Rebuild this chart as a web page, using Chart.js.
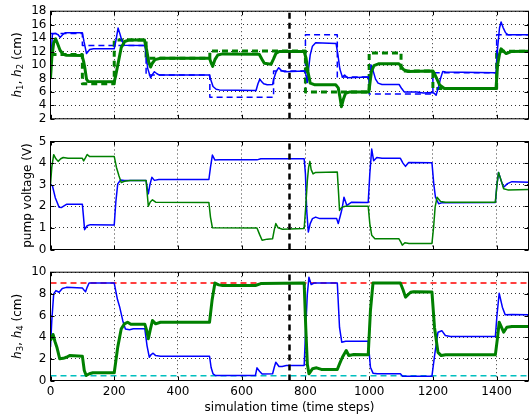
<!DOCTYPE html>
<html>
<head>
<meta charset="utf-8">
<script src="https://cdn.jsdelivr.net/npm/chart.js@4.4.0/dist/chart.umd.min.js"></script>
<style>
  body { margin: 0; background: #fff; }
  .panel { position: absolute; left: 0; width: 529px; }
</style>
</head>
<body>
<div class="panel" style="top:0;height:130px"><canvas id="c1" width="529" height="130"></canvas></div>
<div class="panel" style="top:130px;height:131px"><canvas id="c2" width="529" height="131"></canvas></div>
<div class="panel" style="top:261px;height:156px"><canvas id="c3" width="529" height="156"></canvas></div>
<script>
// x ticks shared by all panels
const xTicks = [0, 200, 400, 600, 800, 1000, 1200, 1400];
const splitT = 750;

// top panel: tank levels h1 (blue), h2 (green) and their setpoints
const y1Ticks = [2, 4, 6, 8, 10, 12, 14, 16, 18];
const h1Data = [[0, 8.2], [3, 12], [6, 14.6], [15, 14.7], [24, 14.5], [30, 14.1], [38, 14.5], [46, 14.8], [100, 14.8],
  [105, 13.5], [113, 11.7], [123, 12.3], [135, 12.4], [200, 12.4], [206, 13.8], [212, 15.5], [218, 14.6], [224, 13.6],
  [232, 12.95], [296, 12.9], [300, 11.5], [305, 9.5], [314, 8.1], [320, 8.6], [326, 9.0], [334, 8.7], [342, 8.5],
  [498, 8.5], [503, 7.8], [510, 6.8], [520, 6.4], [530, 6.3], [645, 6.2], [651, 7.2], [657, 7.9], [663, 7.5],
  [669, 7.2], [680, 7.05], [697, 7.1], [701, 8.0], [708, 9.0], [716, 9.6], [724, 9.2], [735, 9.0], [798, 9.1],
  [802, 8.5], [806, 7.4], [810, 9.5], [815, 11.5], [822, 12.8], [832, 13.3], [896, 13.2], [902, 11.5], [908, 9.4],
  [916, 8.2], [923, 8.5], [932, 8.1], [998, 8.2], [1002, 7.2], [1006, 10.0], [1012, 9.2], [1020, 7.9], [1028, 7.3],
  [1040, 7.1], [1094, 7.1], [1102, 6.5], [1110, 6.0], [1150, 6.0], [1170, 5.85], [1198, 5.9], [1204, 5.8],
  [1210, 5.5], [1218, 6.8], [1224, 8.0], [1231, 9.05], [1240, 8.95], [1398, 8.85], [1403, 12.5], [1409, 15.5],
  [1414, 16.4], [1420, 15.6], [1428, 14.8], [1436, 14.5], [1500, 14.5]];
const h2Data = [[0, 8.0], [4, 11], [10, 13.3], [16, 13.9], [22, 13.2], [30, 12.2], [40, 11.6], [50, 11.45], [99, 11.4],
  [104, 10.5], [108, 9.5], [113, 7.9], [118, 7.55], [200, 7.5], [205, 8.5], [212, 10.2], [222, 12.6], [233, 13.5],
  [245, 13.7], [295, 13.7], [302, 12.2], [308, 10.5], [314, 9.7], [320, 10.3], [328, 10.8], [345, 11.0], [499, 11.0],
  [505, 10.2], [509, 9.8], [516, 10.8], [525, 11.5], [540, 11.65], [655, 11.6], [663, 10.9], [671, 10.25],
  [692, 10.1], [700, 10.9], [707, 11.7], [718, 12.0], [796, 12.0], [802, 11.0], [808, 9.0], [815, 7.3], [830, 7.05],
  [895, 7.05], [903, 6.6], [908, 5.3], [913, 3.8], [919, 4.9], [926, 5.8], [940, 6.0], [999, 6.0], [1003, 7.5],
  [1007, 9.0], [1015, 9.9], [1031, 10.2], [1093, 10.2], [1100, 9.8], [1108, 9.3], [1121, 9.05], [1200, 9.1],
  [1204, 8.8], [1210, 8.2], [1221, 7.05], [1236, 6.5], [1398, 6.5], [1403, 10.0], [1409, 11.6], [1414, 12.4],
  [1420, 12.1], [1430, 11.7], [1445, 12.0], [1500, 12.05]];
const h1Ref = [[0, 14.7], [100, 12.9], [300, 8.5], [500, 5.2], [700, 9.1], [800, 14.5], [900, 8.2], [1000, 5.7],
  [1200, 8.85], [1400, 14.5], [1500, 14.5]];
const h2Ref = [[0, 11.55], [100, 7.2], [200, 13.7], [300, 11.0], [500, 12.1], [800, 6.0], [1000, 11.8], [1100, 9.1],
  [1200, 6.5], [1400, 12.05], [1500, 12.05]];

// middle panel: pump voltages
const y2Ticks = [0, 1, 2, 3, 4, 5];
const u1Data = [[0, 3.0], [6, 2.95], [15, 2.4], [27, 1.96], [35, 1.95], [50, 2.09], [100, 2.09], [103, 1.6],
  [107, 0.92], [115, 1.1], [125, 1.15], [200, 1.14], [205, 2.2], [211, 3.04], [220, 3.22], [232, 3.2], [300, 3.2],
  [304, 2.8], [307, 2.58], [312, 3.0], [318, 3.34], [326, 3.2], [340, 3.24], [497, 3.24], [502, 3.8], [508, 4.37],
  [516, 4.14], [530, 4.16], [648, 4.15], [660, 4.2], [796, 4.2], [800, 3.5], [804, 1.81], [809, 0.81], [815, 1.2],
  [822, 1.43], [832, 1.5], [845, 1.43], [898, 1.43], [903, 1.2], [910, 1.6], [915, 1.89], [921, 2.42], [930, 2.04],
  [945, 2.19], [997, 2.18], [1002, 3.5], [1008, 4.65], [1014, 4.11], [1024, 4.26], [1040, 4.22], [1098, 4.22],
  [1106, 4.0], [1114, 3.85], [1124, 4.03], [1197, 4.02], [1203, 3.0], [1208, 2.42], [1218, 2.12], [1230, 2.17],
  [1396, 2.18], [1401, 3.0], [1406, 3.57], [1414, 3.19], [1422, 2.88], [1434, 3.05], [1448, 3.14], [1500, 3.11]];
const u2Data = [[0, 3.0], [4, 3.8], [10, 4.39], [17, 4.2], [24, 4.08], [32, 4.2], [40, 4.26], [55, 4.22], [100, 4.22],
  [104, 4.1], [110, 4.25], [115, 4.4], [122, 4.31], [200, 4.31], [207, 3.8], [215, 3.4], [222, 3.1], [232, 3.16],
  [250, 3.19], [300, 3.19], [304, 2.5], [307, 2.0], [313, 2.2], [320, 2.3], [330, 2.19], [497, 2.18], [502, 1.5],
  [508, 1.01], [648, 1.0], [656, 0.7], [664, 0.43], [680, 0.48], [697, 0.5], [702, 0.9], [707, 1.2], [714, 1.01],
  [728, 0.94], [796, 0.97], [801, 2.0], [806, 3.19], [810, 3.8], [814, 4.08], [818, 3.7], [824, 3.5], [832, 3.57],
  [900, 3.59], [904, 2.6], [907, 1.81], [914, 1.95], [925, 2.0], [997, 2.0], [1002, 1.2], [1008, 0.66], [1018, 0.5],
  [1093, 0.5], [1099, 0.35], [1104, 0.2], [1112, 0.31], [1125, 0.28], [1197, 0.28], [1202, 1.0], [1207, 1.96],
  [1213, 2.42], [1224, 2.22], [1240, 2.19], [1396, 2.19], [1401, 3.0], [1406, 3.57], [1414, 3.2], [1422, 2.81],
  [1435, 2.76], [1500, 2.78]];

// bottom panel: h3 (blue), h4 (green) and level limits
const y3Ticks = [0, 2, 4, 6, 8, 10];
const hMax = 9;
const hMin = 0.45;
const h3Data = [[0, 3.1], [4, 5.5], [10, 8.0], [17, 8.3], [27, 8.15], [37, 8.5], [50, 8.6], [100, 8.55], [105, 8.35],
  [110, 8.2], [115, 8.6], [121, 9.0], [200, 9.0], [210, 7.5], [217, 6.8], [227, 5.5], [235, 4.75], [248, 4.68],
  [260, 4.77], [296, 4.77], [303, 3.2], [310, 2.15], [316, 2.4], [322, 2.52], [330, 2.3], [345, 2.25], [499, 2.25],
  [504, 1.2], [510, 0.62], [518, 0.46], [643, 0.46], [648, 1.17], [656, 0.85], [664, 0.6], [697, 0.62], [702, 1.2],
  [707, 1.69], [717, 1.29], [727, 1.3], [740, 1.38], [796, 1.38], [801, 4.9], [806, 8.0], [811, 9.54], [818, 8.86],
  [827, 9.0], [900, 9.0], [907, 4.9], [914, 3.54], [926, 3.63], [997, 3.63], [1004, 1.23], [1012, 0.68],
  [1025, 0.62], [1098, 0.62], [1105, 0.4], [1197, 0.4], [1206, 2.46], [1216, 4.46], [1228, 4.6], [1239, 4.15],
  [1255, 4.06], [1396, 4.06], [1401, 6.0], [1408, 8.06], [1418, 6.77], [1427, 6.06], [1448, 6.09], [1500, 6.06]];
const h4Data = [[0, 3.7], [8, 4.25], [14, 3.6], [20, 3.08], [29, 2.0], [40, 2.05], [50, 2.15], [60, 2.3], [100, 2.25],
  [106, 0.92], [112, 0.46], [122, 0.62], [133, 0.71], [200, 0.71], [205, 1.8], [211, 3.08], [222, 4.77], [232, 5.23],
  [242, 5.38], [252, 5.2], [296, 5.2], [302, 4.6], [307, 3.85], [314, 4.8], [320, 5.54], [330, 5.23], [345, 5.38],
  [499, 5.38], [507, 7.4], [516, 9.0], [528, 8.83], [540, 8.77], [643, 8.77], [660, 8.95], [796, 9.0], [801, 4.9],
  [806, 1.5], [811, 0.62], [822, 1.08], [835, 1.17], [850, 1.02], [900, 1.02], [908, 1.6], [916, 2.15], [928, 2.77],
  [936, 2.31], [952, 2.4], [997, 2.37], [1004, 6.46], [1012, 9.0], [1098, 9.0], [1106, 8.4], [1114, 7.7],
  [1130, 8.15], [1140, 8.2], [1197, 8.18], [1205, 4.9], [1216, 2.6], [1226, 2.3], [1240, 2.37], [1396, 2.37],
  [1403, 4.0], [1408, 5.38], [1422, 4.46], [1432, 4.92], [1448, 4.98], [1500, 4.98]];

const FONT = { family: "'DejaVu Sans', sans-serif", size: 12 };
const BLUE = '#0000ff', GREEN = '#008000';

// frame on all four sides plus matplotlib-style inward ticks
const frame = {
  id: 'frame',
  afterDatasetsDraw(chart) {
    const { ctx, chartArea: a, scales } = chart;
    ctx.save();
    ctx.strokeStyle = '#000';
    ctx.lineWidth = 1;
    ctx.beginPath();
    scales.x.ticks.forEach(t => {
      const px = Math.round(scales.x.getPixelForValue(t.value)) + 0.5;
      ctx.moveTo(px, a.top); ctx.lineTo(px, a.top + 4);
      ctx.moveTo(px, a.bottom); ctx.lineTo(px, a.bottom - 4);
    });
    scales.y.ticks.forEach(t => {
      const py = Math.round(scales.y.getPixelForValue(t.value)) + 0.5;
      ctx.moveTo(a.left, py); ctx.lineTo(a.left + 4, py);
      ctx.moveTo(a.right, py); ctx.lineTo(a.right - 4, py);
    });
    ctx.stroke();
    ctx.strokeRect(a.left, a.top, a.width, a.height);
    ctx.restore();
  }
};

// rotated y title with italic symbols and subscripts
const yTitle = {
  id: 'yTitle',
  afterDraw(chart, args, opts) {
    const { ctx, chartArea: a } = chart;
    const fontOf = p => (p.italic ? 'italic ' : '') + (p.sub ? 8.5 : 12) + "px 'DejaVu Sans'";
    ctx.save();
    ctx.fillStyle = '#000';
    ctx.textBaseline = 'middle';
    let total = 0;
    opts.parts.forEach(p => { ctx.font = fontOf(p); total += ctx.measureText(p.text).width; });
    ctx.translate(opts.x, (a.top + a.bottom) / 2);
    ctx.rotate(-Math.PI / 2);
    let pos = -total / 2;
    opts.parts.forEach(p => {
      ctx.font = fontOf(p);
      ctx.fillText(p.text, pos, p.sub ? 3 : 0);
      pos += ctx.measureText(p.text).width;
    });
    ctx.restore();
  }
};

const line = (data, color, width, dash) => ({
  data: data, borderColor: color, borderWidth: width, borderDash: dash || [],
  pointRadius: 0, tension: 0, fill: false, clip: 0, borderJoinStyle: 'round', borderCapStyle: 'butt'
});
const vline = (yMin, yMax) => line([[splitT, yMin], [splitT, yMax]], '#000', 2.5, [6, 4]);

function makePanel(id, cfg) {
  return new Chart(document.getElementById(id), {
    type: 'line',
    data: { datasets: cfg.datasets },
    options: {
      responsive: false,
      animation: false,
      devicePixelRatio: 1,
      layout: { padding: { top: cfg.top, right: 0.5, left: 0, bottom: 0 } },
      plugins: {
        legend: { display: false },
        tooltip: { enabled: false },
        yTitle: { parts: cfg.title, x: cfg.titleX }
      },
      scales: {
        x: {
          type: 'linear', min: 0, max: 1500,
          afterBuildTicks: s => { s.ticks = xTicks.map(v => ({ value: v })); },
          afterFit: s => { s.height = cfg.xHeight; },
          grid: { color: '#333', lineWidth: 1, drawTicks: false },
          border: { display: false, dash: [1, 3] },
          ticks: { display: cfg.showX, autoSkip: false, padding: 4, color: '#000', font: FONT, maxRotation: 0, callback: v => String(v) },
          title: { display: cfg.showX, text: 'simulation time (time steps)', color: '#000', font: FONT, padding: { top: 0, bottom: 1.5 } }
        },
        y: {
          type: 'linear', min: cfg.yMin, max: cfg.yMax,
          afterBuildTicks: s => { s.ticks = cfg.yTicks.map(v => ({ value: v })); },
          afterFit: s => { s.width = 50.5; },
          grid: { color: '#333', lineWidth: 1, drawTicks: false },
          border: { display: false, dash: [1, 3] },
          ticks: { autoSkip: false, padding: 4, color: '#000', font: FONT, callback: v => String(v) }
        }
      }
    },
    plugins: [frame, yTitle]
  });
}

makePanel('c1', {
  top: 10.5, xHeight: 10.5, showX: false, yMin: 2, yMax: 18, yTicks: y1Ticks, titleX: 17.5,
  title: [{ text: 'h', italic: true }, { text: '1', sub: true }, { text: ', ' },
          { text: 'h', italic: true }, { text: '2', sub: true }, { text: ' (cm)' }],
  datasets: [
    vline(2, 18),
    line(h2Data, GREEN, 3),
    line(h1Data, BLUE, 1.5),
    Object.assign(line(h2Ref, GREEN, 3, [6, 4]), { stepped: true }),
    Object.assign(line(h1Ref, BLUE, 1.5, [6, 4]), { stepped: true })
  ]
});

makePanel('c2', {
  top: 11.5, xHeight: 11.5, showX: false, yMin: 0, yMax: 5, yTicks: y2Ticks, titleX: 28,
  title: [{ text: 'pump voltage (V)' }],
  datasets: [
    vline(0, 5),
    line(u2Data, GREEN, 1.5),
    line(u1Data, BLUE, 1.5)
  ]
});

makePanel('c3', {
  top: 10.5, xHeight: 36.5, showX: true, yMin: 0, yMax: 10, yTicks: y3Ticks, titleX: 17.5,
  title: [{ text: 'h', italic: true }, { text: '3', sub: true }, { text: ', ' },
          { text: 'h', italic: true }, { text: '4', sub: true }, { text: ' (cm)' }],
  datasets: [
    vline(0, 10),
    line(h4Data, GREEN, 3),
    line(h3Data, BLUE, 1.5),
    line([[0, hMax], [1500, hMax]], '#ff0000', 1.5, [6, 4]),
    line([[0, hMin], [1500, hMin]], '#00bfbf', 1.5, [6, 4])
  ]
});
</script>
</body>
</html>
